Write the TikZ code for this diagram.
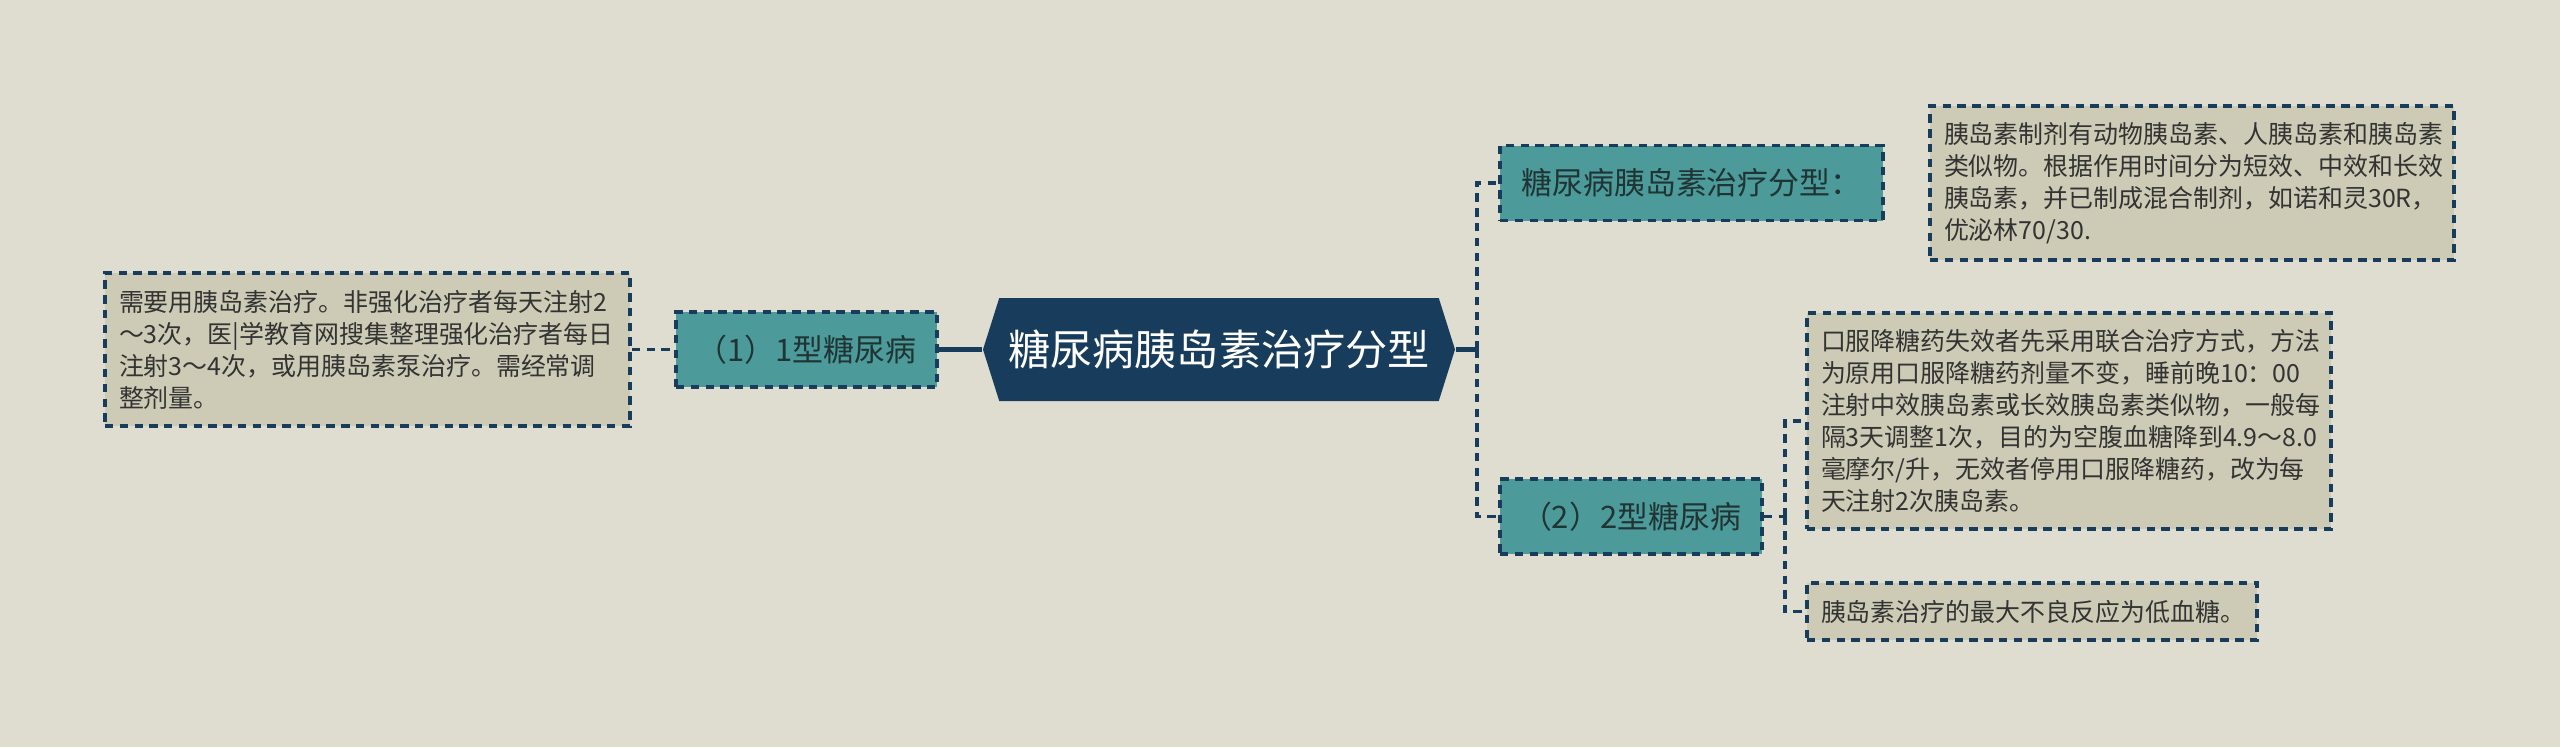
\documentclass[tikz,border=0pt]{standalone}
\usepackage{fontspec}
\setmainfont{Noto Sans CJK SC}
\usetikzlibrary{shapes.symbols}
\definecolor{bgc}{HTML}{DEDDD0}
\definecolor{notec}{HTML}{CDCBB5}
\definecolor{tealc}{HTML}{4C9A9A}
\definecolor{navyc}{HTML}{183C5C}
\definecolor{inkc}{HTML}{333333}
\definecolor{leafink}{HTML}{203434}

\begin{document}
\begin{tikzpicture}[
    link/.style={draw=navyc, line width=1pt, dash pattern=on 2.4pt off 1.8pt},
    trunk/.style={draw=navyc, line width=1.2pt},
    note/.style={link, fill=notec, text=inkc, align=left, inner xsep=0.14cm, inner ysep=0pt,
      font=\fontsize{7.1pt}{9.1pt}\selectfont},
    leaf/.style={link, fill=tealc, text=leafink, inner sep=0pt, minimum height=0.75cm,
      font=\fontsize{8.8pt}{10pt}\selectfont},
    root/.style={signal, signal to=west and east, signal pointer angle=145, fill=navyc,
      text=white, inner sep=0pt, minimum width=4.72cm, minimum height=1.03cm,
      font=\fontsize{12pt}{14pt}\selectfont}
  ]
    \fill[bgc] (0,0) rectangle (25.6,-7.47);
    % centre and left branch
    \node[root] (root) at (12.19,-3.495) {糖尿病胰岛素治疗分型};
    \node[leaf, minimum width=2.61cm] (type1) at (8.065,-3.495) {（1）1型糖尿病};
    \node[note, text width=4.97cm, minimum height=1.53cm] (note1) at (3.675,-3.495)
      {需要用胰岛素治疗。非强化治疗者每天注射2\\～3次，医|学教育网搜集整理强化治疗者每日\\注射3～4次，或用胰岛素泵治疗。需经常调\\整剂量。};
    % right branches
    \node[leaf, minimum width=3.83cm] (kinds) at (16.915,-1.83) {糖尿病胰岛素治疗分型：};
    \node[note, text width=4.96cm, minimum height=1.54cm] (note2) at (21.92,-1.83)
      {胰岛素制剂有动物胰岛素、人胰岛素和胰岛素\\类似物。根据作用时间分为短效、中效和长效\\胰岛素，并已制成混合制剂，如诺和灵30R，\\优泌林70/30.};
    \node[leaf, minimum width=2.62cm] (type2) at (16.31,-5.165) {（2）2型糖尿病};
    \node[note, text width=4.96cm, minimum height=2.16cm] (note3) at (20.69,-4.21)
      {口服降糖药失效者先采用联合治疗方式，方法\\为原用口服降糖药剂量不变，睡前晚10：00\\注射中效胰岛素或长效胰岛素类似物，一般每\\隔3天调整1次，目的为空腹血糖降到4.9～8.0\\毫摩尔/升，无效者停用口服降糖药，改为每\\天注射2次胰岛素。};
    \node[note, text width=4.22cm, minimum height=0.57cm] (note4) at (20.32,-6.115)
      {胰岛素治疗的最大不良反应为低血糖。};
    \coordinate (hubR) at (14.77,-3.495);
    \coordinate (hubB) at (17.85,-5.165);
    % connectors
    \draw[link] (note1.east) -- (type1.west);
    \draw[trunk] (type1.east) -- (root.west);
    \draw[trunk] (root.east) -- (hubR);
    \draw[link] (hubR) |- (kinds.west);
    \draw[link] (hubR) |- (type2.west);
    \draw[link] (type2.east) -- (hubB);
    \draw[link] (hubB) |- (note3.west);
    \draw[link] (hubB) |- (note4.west);
  \end{tikzpicture}
\end{document}
